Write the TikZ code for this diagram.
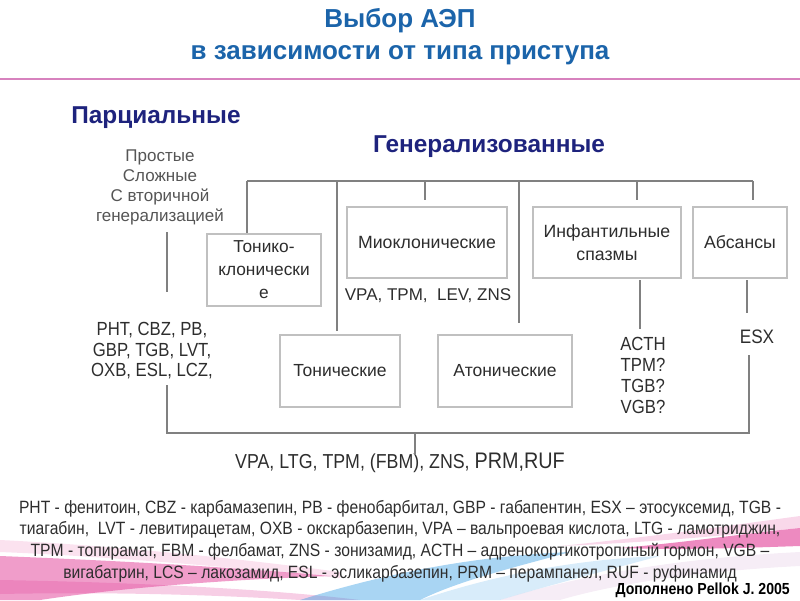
\documentclass[tikz,border=0pt]{standalone}
\usepackage{fontspec}
\setmainfont{Liberation Sans}
\newfontfamily\narrowfont[FakeStretch=0.88]{Liberation Sans}
\usetikzlibrary{calc}
\definecolor{titleblue}{RGB}{27,100,170}
\definecolor{navy}{RGB}{30,35,125}
\definecolor{conngray}{RGB}{128,128,128}
\definecolor{boxgray}{RGB}{192,192,192}
\definecolor{txt}{RGB}{45,45,45}
\definecolor{soft}{RGB}{85,85,85}
\definecolor{pinkline}{RGB}{215,130,190}
\definecolor{swpink}{RGB}{225,60,150}
\definecolor{swblue}{RGB}{40,150,225}
\begin{document}
\begin{tikzpicture}[x=1pt,y=-1pt,
  box/.style={draw=boxgray, line width=1.3pt, fill=white, inner sep=0pt, align=center, text=txt, font=\fontsize{17.7}{23}\selectfont},
  conn/.style={draw=conngray, line width=2pt},
  drug/.style={text=txt, align=center, inner sep=0pt, font=\narrowfont\fontsize{19}{20.5}\selectfont},
  head/.style={text=navy, font=\bfseries\fontsize{24.4}{28}\selectfont, inner sep=0pt},
  ttl/.style={text=titleblue, align=center, font=\bfseries\fontsize{26}{32}\selectfont, inner sep=0pt}]
\useasboundingbox (0,0) rectangle (800,600);
% background swooshes
\fill[swpink, opacity=0.15] (0,540) .. controls (100,545) and (220,556) .. (340,572) -- (340,578) .. controls (220,566) and (100,556) .. (0,552) -- cycle;
\fill[swpink, opacity=0.50] (0,556) .. controls (100,560) and (220,566) .. (330,576) .. controls (220,580) and (120,588) .. (40,600) -- (0,600) -- cycle;
\fill[swpink, opacity=0.25] (0,580) .. controls (120,582) and (260,588) .. (360,600) -- (300,600) .. controls (200,594) and (100,592) .. (0,594) -- cycle;
\fill[swblue, opacity=0.40] (300,600) .. controls (380,575) and (470,556) .. (570,552) .. controls (520,566) and (460,580) .. (420,600) -- cycle;
\fill[swblue, opacity=0.18] (420,600) .. controls (480,580) and (560,560) .. (660,556) .. controls (600,572) and (540,588) .. (500,600) -- cycle;
\fill[violet!40, opacity=0.18] (500,600) .. controls (580,575) and (680,558) .. (800,552) -- (800,566) .. controls (680,572) and (600,588) .. (560,600) -- cycle;
\fill[swpink, opacity=0.60] (620,548) .. controls (690,542) and (740,534) .. (800,528) -- (800,546) .. controls (740,548) and (690,550) .. (620,548) -- cycle;
\fill[swpink, opacity=0.20] (560,546) .. controls (660,536) and (740,524) .. (800,516) -- (800,528) .. controls (740,534) and (660,542) .. (560,546) -- cycle;
% title
\node[ttl] (title) at (400,37) {Выбор АЭП\\в зависимости от типа приступа};
\coordinate (plL) at (0,79);
\coordinate (plR) at (800,79);
\draw[pinkline, line width=1.5pt] (plL) -- (plR);
% headings
\node[head] (part) at (156,118) {Парциальные};
\node[head] (gen) at (489,147) {Генерализованные};
\node[text=soft, align=center, inner sep=0pt, font=\fontsize{17}{20}\selectfont] (simple) at (160,187) {Простые\\Сложные\\С вторичной\\генерализацией};
% boxes
\node[box, minimum width=114pt, minimum height=72pt, font=\fontsize{17.3}{23}\selectfont] (tc) at (264,270) {Тонико-\\клонически\\е};
\node[box, minimum width=160pt, minimum height=71pt] (mio) at (427,242.5) {Миоклонические};
\node[box, minimum width=148pt, minimum height=71pt] (inf) at (607,242.5) {Инфантильные\\спазмы};
\node[box, minimum width=94pt, minimum height=71pt] (ab) at (740,242.5) {Абсансы};
\node[box, minimum width=120pt, minimum height=72pt, font=\fontsize{17.5}{22}\selectfont] (ton) at (340,371) {Тонические};
\node[box, minimum width=134pt, minimum height=72pt, font=\fontsize{17.5}{22}\selectfont] (aton) at (505,371) {Атонические};
% drug lists
\node[drug] (pd) at (152,351) {PHT, CBZ, PB,\\GBP, TGB, LVT,\\OXB, ESL, LCZ,};
\node[text=txt, inner sep=0pt, font=\fontsize{17}{20}\selectfont] (md) at (428,296) {VPA, TPM,\ \ LEV, ZNS};
\node[drug, font=\narrowfont\fontsize{19}{21}\selectfont] (id) at (643,375.5) {ACTH\\TPM?\\TGB?\\VGB?};
\node[drug, font=\narrowfont\fontsize{19.5}{21}\selectfont] (ad) at (757,337) {ESX};
\node[drug, font=\narrowfont\fontsize{20.2}{22}\selectfont] (gd) at (400,463) {VPA, LTG, TPM, (FBM), ZNS, {\fontsize{22.5}{22}\selectfont PRM,RUF}};
% connectors top
\coordinate (b1) at (247,181);
\coordinate (b2) at (337,181);
\coordinate (b3) at (425,181);
\coordinate (b4) at (519,181);
\coordinate (b5) at (637,181);
\coordinate (b6) at (753,181);
\draw[conn] (b1) -- (b6);
\draw[conn] (b1) -- (b1 |- tc.north);
\draw[conn, shorten >=3pt] (b2) -- (b2 |- ton.north);
\draw[conn, shorten >=6pt] (b3) -- (b3 |- mio.north);
\draw[conn, shorten >=11pt] (b4) -- (b4 |- aton.north);
\draw[conn, shorten >=6pt] (b5) -- (b5 |- inf.north);
\draw[conn, shorten >=6pt] (b6) -- (b6 |- ab.north);
% connectors below boxes
\coordinate (i1) at (640,280);
\coordinate (i2) at (640,329);
\draw[conn] (i1) -- (i2);
\coordinate (a1) at (747,280);
\coordinate (a2) at (747,313);
\draw[conn] (a1) -- (a2);
\coordinate (p1) at (167,232);
\coordinate (p2) at (167,292);
\draw[conn] (p1) -- (p2);
% bottom bracket
\coordinate (q1) at (167,385);
\coordinate (q2) at (167,433);
\coordinate (q3) at (749,433);
\coordinate (q4) at (749,355);
\coordinate (c1) at (415,433);
\coordinate (c2) at (415,455);
\draw[conn] (q1) -- (q2) -- (q3) -- (q4);
\draw[conn] (c1) -- (c2);
% footnote
\node[text=txt, align=center, inner sep=0pt, font=\narrowfont\fontsize{17.8}{21.6}\selectfont] (fn) at (400,541) {PHT - фенитоин, CBZ - карбамазепин, PB - фенобарбитал, GBP - габапентин, ESX – этосуксемид, TGB -\\тиагабин,\ \ LVT - левитирацетам, OXB - окскарбазепин, VPA – вальпроевая кислота, LTG - ламотриджин,\\TPM - топирамат, FBM - фелбамат, ZNS - зонизамид, ACTH – адренокортикотропиный гормон, VGB –\\вигабатрин, LCS – лакозамид, ESL - эсликарбазепин, PRM – перампанел, RUF - руфинамид};
\node[anchor=east, text=black, inner sep=0pt, font=\narrowfont\bfseries\fontsize{16}{18}\selectfont] (src) at (790,590) {Дополнено Pellok J. 2005};
\end{tikzpicture}
\end{document}
